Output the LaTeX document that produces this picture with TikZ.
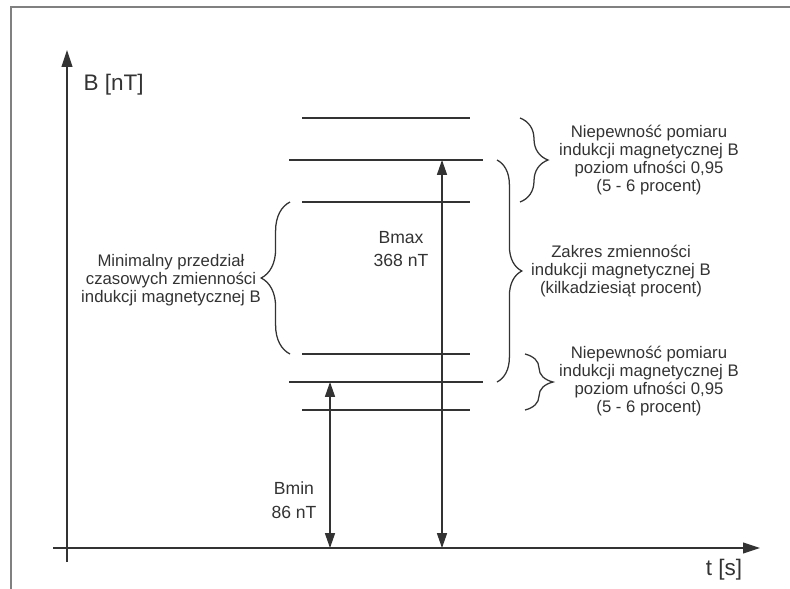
\documentclass[tikz,border=0pt]{standalone}
\usepackage{fontspec}
\setmainfont{Liberation Sans}
\usepackage{tikz}
\usetikzlibrary{decorations.pathreplacing,arrows.meta}
\definecolor{ink}{HTML}{333333}
\definecolor{rim}{HTML}{808080}

\begin{document}
\begin{tikzpicture}[x=0.025cm, y=-0.025cm, line width=0.9pt, color=ink,
        tip/.style={-{Triangle[length=0.42cm,width=0.27cm]}},
        dbl/.style={{Triangle[length=0.37cm,width=0.25cm]}-{Triangle[length=0.37cm,width=0.25cm]}},
        note/.style={align=center, inner sep=0pt, font=\fontsize{11.9}{13}\selectfont},
        big/.style={align=center, inner sep=0pt, font=\fontsize{12.5}{17}\selectfont},
        axlbl/.style={inner sep=0pt, font=\fontsize{16}{19}\selectfont},
        brc/.style={decorate, decoration={brace, amplitude=#1}}]
    \useasboundingbox (0,0) rectangle (790,588);
    \clip (0,0) rectangle (790,588);
    \draw[rim, line width=1.5pt] (11,7) rectangle (805,603);

    % axes
    \coordinate (ybot) at (67,562); \coordinate (ytop) at (67,50);
    \coordinate (xlft) at (53,548); \coordinate (xrgt) at (760,548);
    \draw[tip] (ybot) -- (ytop); \draw[tip] (xlft) -- (xrgt);
    \node[axlbl, anchor=west] (ylab) at (83,85) {B [nT]};
    \node[axlbl] (xlab) at (724,570) {t [s]};

    % levels
    \foreach \n/\y/\a/\b in {l1/118/302/470, l2/160/289/483, l3/202/302/470, l4/354/302/470, l5/382/289/483, l6/410/302/470}
        { \coordinate (\n w) at (\a,\y); \coordinate (\n e) at (\b,\y); \draw (\n w) -- (\n e); }

    % Bmin, Bmax
    \coordinate (mintop) at (330,382); \coordinate (minbot) at (330,548);
    \coordinate (maxtop) at (442,160); \coordinate (maxbot) at (442,548);
    \draw[dbl] (mintop) -- (minbot); \draw[dbl] (maxtop) -- (maxbot);
    \node[big] (bmin) at (294,500) {Bmin\\86 nT};
    \node[big] (bmax) at (401,249) {Bmax\\368 nT};

    % braces
    \coordinate (lbA) at (290,354); \coordinate (lbB) at (290,202);
    \coordinate (tbA) at (520,118); \coordinate (tbB) at (520,202);
    \coordinate (mbA) at (497,160); \coordinate (mbB) at (497,382);
    \coordinate (bbA) at (525,354); \coordinate (bbB) at (525,410);
    \draw[brc=0.72cm] (lbA) -- (lbB); \draw[brc=0.7cm] (tbA) -- (tbB);
    \draw[brc=0.62cm] (mbA) -- (mbB); \draw[brc=0.7cm] (bbA) -- (bbB);

    \node[note] (okres) at (171,280) {Minimalny przedział\\czasowych zmienności\\indukcji magnetycznej B};
    \node[note] (niep1) at (649,160) {Niepewność pomiaru\\indukcji magnetycznej B\\poziom ufności 0,95\\(5 - 6 procent)};
    \node[note] (zakres) at (621,271) {Zakres zmienności\\indukcji magnetycznej B\\(kilkadziesiąt procent)};
    \node[note] (niep2) at (649,381) {Niepewność pomiaru\\indukcji magnetycznej B\\poziom ufności 0,95\\(5 - 6 procent)};
\end{tikzpicture}
\end{document}
